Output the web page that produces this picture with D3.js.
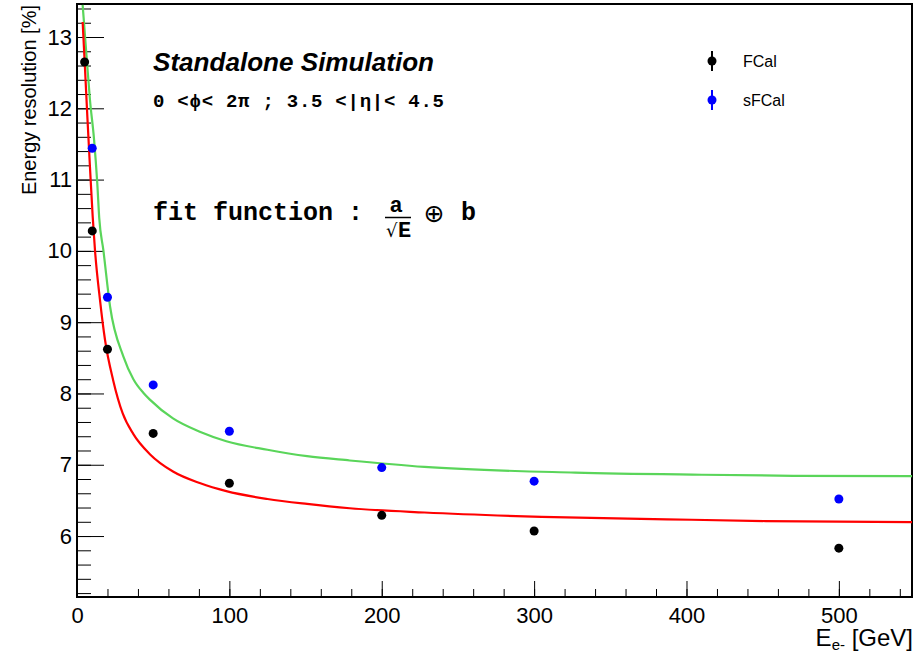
<!DOCTYPE html>
<html>
<head>
<meta charset="utf-8">
<script src="https://cdn.jsdelivr.net/npm/d3@7"></script>
<style>
  body { margin: 0; background: #fff; }
  svg { display: block; }
  .tick text { font-family: "Liberation Sans", Arial, sans-serif; font-size: 22px; fill: #000; }
  .tick line { stroke: #000; stroke-width: 1; }
</style>
</head>
<body>
<script>
// measured points (E in GeV, resolution in %)
var fcalE = [5, 10, 20, 50, 100, 200, 300, 500];
var fcalRes = [12.65, 10.28, 8.62, 7.44, 6.74, 6.29, 6.07, 5.83];
var sfcalE = [10, 20, 50, 100, 200, 300, 500];
var sfcalRes = [11.44, 9.35, 8.12, 7.47, 6.96, 6.77, 6.52];

// fit curves
var fcalFitE = [3.7, 5.2, 6.8, 8.5, 10.3, 11.8, 15.1, 18.4, 23.8, 30, 37, 48, 63, 81, 98, 125, 151, 179, 228, 305, 387, 452, 548];
var fcalFitRes = [13.21, 12.58, 11.88, 11.18, 10.48, 10.01, 9.31, 8.75, 8.18, 7.72, 7.43, 7.145, 6.905, 6.74, 6.63, 6.52, 6.45, 6.39, 6.33, 6.27, 6.235, 6.21, 6.195];
var sfcalFitE = [3.7, 6.3, 8.5, 11.2, 13.3, 14.6, 17.3, 21.7, 30.4, 37, 43.5, 48, 63, 81, 98, 125, 151, 179, 228, 327, 410, 470, 548];
var sfcalFitRes = [13.45, 12.72, 12.12, 11.56, 10.95, 10.46, 10.01, 9.22, 8.52, 8.2, 8.01, 7.91, 7.65, 7.46, 7.33, 7.21, 7.12, 7.06, 6.97, 6.89, 6.86, 6.845, 6.84];

var seriesNames = ["FCal", "sFCal"];
var seriesColors = ["#000000", "#0000ff"];
var fitColors = ["#ff0000", "#5ad55a"];

var xTicks = [0, 100, 200, 300, 400, 500];
var xMinor = d3.range(0, 541, 20);
var yTicks = [6, 7, 8, 9, 10, 11, 12, 13];
var yMinor = d3.range(5.2, 13.41, 0.2);

var width = 917, height = 654;
var frame = {left: 77, right: 912, top: 4, bottom: 597};

var x = d3.scaleLinear().domain([0, 548]).range([frame.left, frame.right]);
var y = d3.scaleLinear().domain([5.145, 13.463]).range([frame.bottom, frame.top]);

var svg = d3.select("body").append("svg")
    .attr("width", width).attr("height", height);

svg.append("clipPath").attr("id", "clip")
  .append("rect")
    .attr("x", frame.left).attr("y", frame.top)
    .attr("width", frame.right - frame.left).attr("height", frame.bottom - frame.top);

// minor ticks
svg.append("g").attr("transform", "translate(" + frame.left + ",0)")
    .call(d3.axisLeft(y).tickValues(yMinor).tickSize(-14).tickFormat(""))
    .call(function(g){ g.select(".domain").remove(); });
svg.append("g").attr("transform", "translate(0," + frame.bottom + ")")
    .call(d3.axisBottom(x).tickValues(xMinor).tickSize(-8).tickFormat(""))
    .call(function(g){ g.select(".domain").remove(); });

// major ticks + labels
svg.append("g").attr("transform", "translate(" + frame.left + ",0)")
    .call(d3.axisLeft(y).tickValues(yTicks).tickSize(-27).tickPadding(5).tickFormat(d3.format("d")))
    .call(function(g){ g.select(".domain").remove(); });
svg.append("g").attr("transform", "translate(0," + frame.bottom + ")")
    .call(d3.axisBottom(x).tickValues(xTicks).tickSize(-16).tickPadding(10).tickFormat(d3.format("d")))
    .call(function(g){ g.select(".domain").remove(); });

// frame
svg.append("rect")
    .attr("x", frame.left).attr("y", frame.top)
    .attr("width", frame.right - frame.left).attr("height", frame.bottom - frame.top)
    .attr("fill", "none").attr("stroke", "#000").attr("stroke-width", 2);

// fit curves
var line = d3.line()
    .x(function(d){ return x(d[0]); })
    .y(function(d){ return y(d[1]); })
    .curve(d3.curveMonotoneX);

var fits = [d3.zip(fcalFitE, fcalFitRes), d3.zip(sfcalFitE, sfcalFitRes)];
svg.append("g").attr("clip-path", "url(#clip)")
  .selectAll("path").data([fits[1], fits[0]]).enter().append("path")
    .attr("d", line)
    .attr("fill", "none")
    .attr("stroke", function(d, i){ return i == 0 ? fitColors[1] : fitColors[0]; })
    .attr("stroke-width", 2.2);

// data points
var points = [d3.zip(fcalE, fcalRes), d3.zip(sfcalE, sfcalRes)];
points.forEach(function(pts, k) {
  svg.append("g").selectAll("circle").data(pts).enter().append("circle")
      .attr("cx", function(d){ return x(d[0]); })
      .attr("cy", function(d){ return y(d[1]); })
      .attr("r", 4.5)
      .attr("fill", seriesColors[k]);
});

// legend
var legend = svg.append("g");
seriesNames.forEach(function(name, k) {
  var ly = 61 + k * 39;
  legend.append("line").attr("x1", 712).attr("x2", 712).attr("y1", ly - 10).attr("y2", ly + 10)
      .attr("stroke", seriesColors[k]).attr("stroke-width", 2);
  legend.append("circle").attr("cx", 712).attr("cy", ly).attr("r", 4.5).attr("fill", seriesColors[k]);
  legend.append("text").attr("x", 743).attr("y", ly + 6)
      .style("font-family", "'Liberation Sans', Arial, sans-serif").style("font-size", "16px")
      .text(name);
});

// annotations
svg.append("text").attr("x", 153).attr("y", 71)
    .style("font-family", "'Liberation Sans', Arial, sans-serif")
    .style("font-size", "25px").style("font-weight", "bold").style("font-style", "italic")
    .attr("textLength", 281).attr("lengthAdjust", "spacingAndGlyphs")
    .text("Standalone Simulation");

svg.append("text").attr("x", 153).attr("y", 107)
    .style("font-family", "'Liberation Mono', 'Courier New', monospace")
    .style("font-size", "19px").style("font-weight", "bold")
    .attr("textLength", 291).attr("lengthAdjust", "spacing")
    .text("0 <\u03d5< 2\u03c0 ; 3.5 <|\u03b7|< 4.5");

var mono = "'Liberation Mono', 'Courier New', monospace";
svg.append("text").attr("x", 153).attr("y", 220)
    .style("font-family", mono).style("font-size", "25px").style("font-weight", "bold")
    .text("fit function :");
svg.append("text").attr("x", 396).attr("y", 212).attr("text-anchor", "middle")
    .style("font-family", mono).style("font-size", "22px").style("font-weight", "bold")
    .text("a");
svg.append("line").attr("x1", 385).attr("x2", 411).attr("y1", 217.5).attr("y2", 217.5)
    .attr("stroke", "#000").attr("stroke-width", 1.5);
svg.append("text").attr("x", 386).attr("y", 237)
    .style("font-family", "'DejaVu Sans', sans-serif").style("font-size", "18px")
    .text("\u221a");
svg.append("text").attr("x", 398).attr("y", 237)
    .style("font-family", mono).style("font-size", "22px").style("font-weight", "bold")
    .text("E");
svg.append("text").attr("x", 434).attr("y", 222).attr("text-anchor", "middle")
    .style("font-family", "'DejaVu Sans', sans-serif").style("font-size", "25px")
    .text("\u2295");
svg.append("text").attr("x", 461).attr("y", 220)
    .style("font-family", mono).style("font-size", "25px").style("font-weight", "bold")
    .text("b");

// axis titles
svg.append("text")
    .attr("transform", "translate(36,5) rotate(-90)")
    .attr("text-anchor", "end")
    .style("font-family", "'Liberation Sans', Arial, sans-serif").style("font-size", "20px")
    .text("Energy resolution [%]");

var xt = svg.append("text").attr("x", 913).attr("y", 646).attr("text-anchor", "end")
    .style("font-family", "'Liberation Sans', Arial, sans-serif").style("font-size", "24px");
xt.append("tspan").text("E");
xt.append("tspan").attr("dy", 4).style("font-size", "15px").text("e-");
xt.append("tspan").attr("dy", -4).text(" [GeV]");
</script>
</body>
</html>
